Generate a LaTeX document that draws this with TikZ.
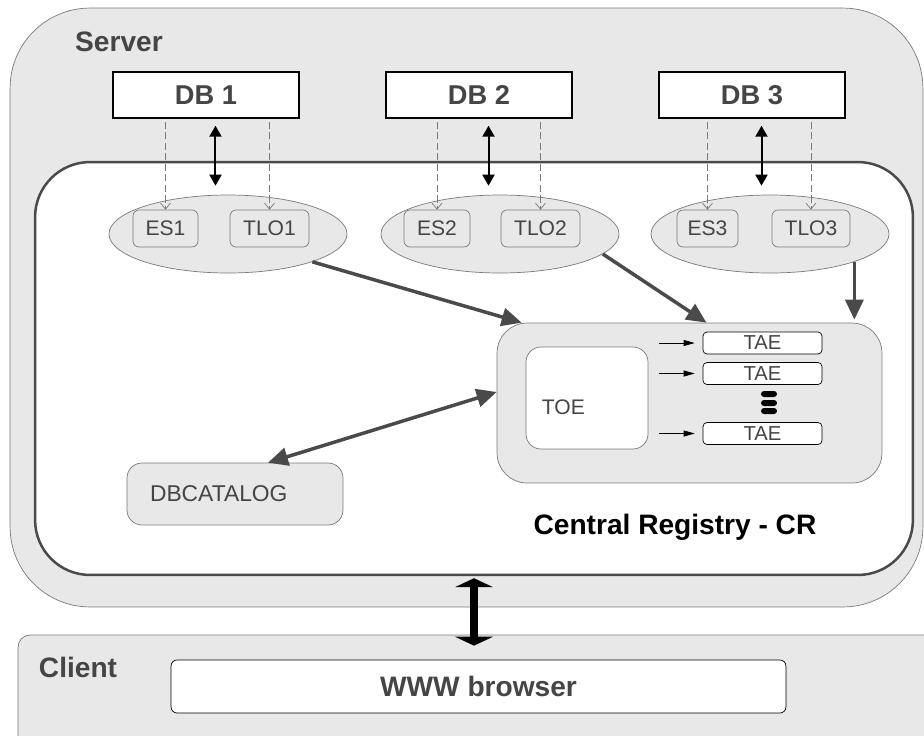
\documentclass[tikz,border=0pt]{standalone}
\usepackage{fontspec}
\setmainfont{Liberation Sans}
\usetikzlibrary{arrows.meta,shapes.geometric}
\definecolor{panelgray}{HTML}{E8E8E8}
\definecolor{edgegray}{HTML}{7A7A7A}
\definecolor{inkgray}{HTML}{454545}
\definecolor{flowgray}{HTML}{4A4A4A}
\begin{document}
\begin{tikzpicture}[x=0.02cm, y=-0.02cm,
  area/.style={draw=edgegray, fill=panelgray, rounded corners=1.6cm},
  title/.style={font=\fontsize{16}{19}\selectfont\bfseries, text=inkgray},
  db node/.style={draw=black, fill=white, thick, minimum width=3.72cm, minimum height=.92cm, font=\fontsize{15.5}{18}\selectfont\bfseries, text=inkgray},
  group node/.style={ellipse, draw=edgegray, fill=panelgray, minimum width=4.76cm, minimum height=1.56cm},
  part node/.style={draw=edgegray, rounded corners=.12cm, minimum height=.74cm, inner sep=0pt, font=\fontsize{12}{14}\selectfont, text=inkgray},
  tae node/.style={draw=black, fill=white, rounded corners=.08cm, minimum width=2.38cm, minimum height=.44cm, inner sep=0pt, font=\fontsize{11.5}{12}\selectfont, text=inkgray},
  feed/.style={draw=edgegray, dash pattern=on 4pt off 2pt, -{Straight Barb[length=.12cm,width=.2cm]}, shorten <=.06cm},
  sync/.style={line width=.04cm, {Triangle[length=.22cm,width=.24cm]}-{Triangle[length=.22cm,width=.24cm]}, shorten <=.14cm, shorten >=.18cm},
  flow/.style={draw=flowgray, line width=.07cm, >={Triangle[length=.4cm,width=.36cm]}, ->},
  tae feed/.style={-{Triangle[length=.22cm,width=.12cm]}, shorten <=.22cm, shorten >=.16cm},
  link/.style={line width=.16cm, {Triangle[length=.18cm,width=.76cm]}-{Triangle[length=.18cm,width=.76cm]}, shorten <=.04cm, shorten >=.28cm}]
\useasboundingbox (0,0) rectangle (924,735);
\clip (0,0) rectangle (924,735);

% server, core and client areas
\node [area, minimum width=18.26cm, minimum height=11.98cm] (server) at (466.5,307.5) {};
\node [draw=flowgray, line width=.05cm, fill=white, rounded corners=1.1cm, minimum width=17.56cm, minimum height=8.26cm] (core) at (474,368.5) {};
\node [area, rounded corners=.24cm, minimum width=18.64cm, minimum height=2.5cm] (client) at (484,697.5) {};
\node [title] (serverlabel) at (119,42) {Server};
\node [title] (clientlabel) at (78,667) {Client};
\node [title, text=black] (crlabel) at (675,527) {Central Registry - CR};

% databases
\node [db node] (db1) at (206,95) {DB 1};
\node [db node] (db2) at (479,95) {DB 2};
\node [db node] (db3) at (752,95) {DB 3};

% extracted schemas
\node [group node] (g1) at (228,234) {};
\node [group node] (g2) at (500,234) {};
\node [group node] (g3) at (770,234) {};
\node [part node, minimum width=1.3cm] (es1) at (165.5,228.5) {ES1};
\node [part node, minimum width=1.58cm] (tlo1) at (269.5,228.5) {TLO1};
\node [part node, minimum width=1.32cm] (es2) at (437,228.5) {ES2};
\node [part node, minimum width=1.58cm] (tlo2) at (540.5,228.5) {TLO2};
\node [part node, minimum width=1.22cm] (es3) at (707.5,228.5) {ES3};
\node [part node, minimum width=1.56cm] (tlo3) at (811,228.5) {TLO3};

% central registry
\node [draw=edgegray, fill=panelgray, rounded corners=.6cm, minimum width=7.7cm, minimum height=3.2cm] (cr) at (689.5,403) {};
\node [draw=edgegray, fill=white, rounded corners=.3cm, minimum width=2.44cm, minimum height=2.04cm,
  label={[anchor=west, xshift=.2cm, yshift=-.18cm, font=\fontsize{12}{14}\selectfont, text=inkgray]west:TOE}] (toe) at (587,398) {};
\node [tae node] (tae1) at (762.5,343) {TAE};
\node [tae node] (tae2) at (762.5,373.5) {TAE};
\node [tae node] (tae3) at (762.5,433.5) {TAE};
\fill [rounded corners=.06cm] (761,391) rectangle (777,397);
\fill [rounded corners=.06cm] (761,400) rectangle (777,406);
\fill [rounded corners=.06cm] (761,408) rectangle (777,414);

\node [draw=edgegray, fill=panelgray, rounded corners=.3cm, minimum height=1.24cm, text width=3.4cm, inner xsep=.46cm, inner ysep=0pt, align=left, font=\fontsize{13}{15}\selectfont, text=inkgray] (dbcat) at (235,494) {DBCATALOG};

\node [draw=black, fill=white, rounded corners=.12cm, minimum width=12.3cm, minimum height=1.06cm, title] (browser) at (478.5,686.5) {WWW browser};

% connectors
\draw [feed] (es1.north |- db1.south) -- (es1.north);
\draw [feed] (tlo1.north |- db1.south) -- (tlo1.north);
\draw [feed] (es2.north |- db2.south) -- (es2.north);
\draw [feed] (tlo2.north |- db2.south) -- (tlo2.north);
\draw [feed] (es3.north |- db3.south) -- (es3.north);
\draw [feed] (tlo3.north |- db3.south) -- (tlo3.north);
\draw [sync] ([xshift=.19cm]db1.south) -- ([xshift=.19cm]db1.south |- g1.north);
\draw [sync] ([xshift=.19cm]db2.south) -- ([xshift=.19cm]db2.south |- g2.north);
\draw [sync] ([xshift=.19cm]db3.south) -- ([xshift=.19cm]db3.south |- g3.north);
\draw [flow] (g1.south east) -- ([xshift=.5cm]cr.north west);
\draw [flow] (g2.-11) -- ([xshift=.34cm]cr.north);
\draw [flow, shorten >=.06cm] (g3.south east) -- (g3.south east |- cr.north);
\draw [flow, <->] ([yshift=.22cm]cr.west) -- ([xshift=.66cm]dbcat.north);
\draw [tae feed] (toe.east |- tae1.west) -- (tae1.west);
\draw [tae feed] (toe.east |- tae2.west) -- (tae2.west);
\draw [tae feed] (toe.east |- tae3.west) -- (tae3.west);
\draw [link] (core.south) -- (core.south |- browser.north);
\end{tikzpicture}
\end{document}
